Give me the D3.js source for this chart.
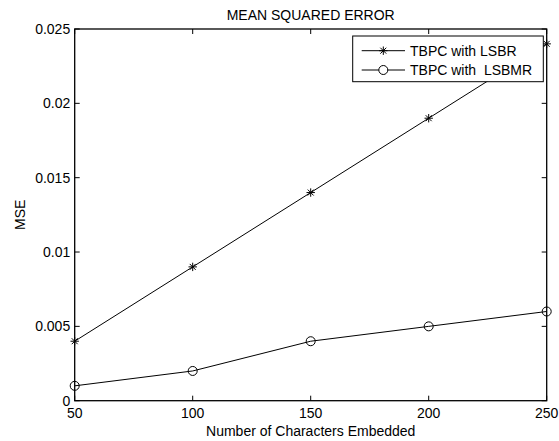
<!DOCTYPE html>
<html>
<head>
<meta charset="utf-8">
<script src="https://cdn.jsdelivr.net/npm/d3@7"></script>
<style>
  body { margin: 0; background: #fff; }
  text { font-family: "Liberation Sans", Arial, sans-serif; fill: #000; }
</style>
</head>
<body>
<div id="chart"></div>
<script>
// data
const chars = [50, 100, 150, 200, 250];
const lsbr = [0.004, 0.009, 0.014, 0.019, 0.024];
const lsbmr = [0.001, 0.002, 0.004, 0.005, 0.006];
const xTicks = [50, 100, 150, 200, 250];
const yTicks = [0, 0.005, 0.01, 0.015, 0.02, 0.025];
const seriesNames = ["TBPC with LSBR", "TBPC with  LSBMR"];

const width = 559, height = 441;
const margin = { top: 29, right: 12.3, bottom: 40.3, left: 74.7 };
const iw = width - margin.left - margin.right;
const ih = height - margin.top - margin.bottom;

const svg = d3.select("#chart").append("svg")
    .attr("width", width)
    .attr("height", height);

const g = svg.append("g")
    .attr("transform", "translate(" + margin.left + "," + margin.top + ")");

const x = d3.scaleLinear().domain([50, 250]).range([0, iw]);
const y = d3.scaleLinear().domain([0, 0.025]).range([ih, 0]);

const fs = "14px";
const tickLen = 5;

// box
g.append("rect")
    .attr("width", iw).attr("height", ih)
    .attr("fill", "none").attr("stroke", "#000").attr("stroke-width", 1.3);

// inward ticks
g.selectAll(".xt").data(xTicks).enter().append("path")
    .attr("d", d => `M${x(d)},${ih}v${-tickLen}M${x(d)},0v${tickLen}`)
    .attr("stroke", "#000").attr("stroke-width", 1);
g.selectAll(".yt").data(yTicks).enter().append("path")
    .attr("d", d => `M0,${y(d)}h${tickLen}M${iw},${y(d)}h${-tickLen}`)
    .attr("stroke", "#000").attr("stroke-width", 1);

// tick labels
g.selectAll(".xl").data(xTicks).enter().append("text")
    .attr("x", d => x(d)).attr("y", ih + 17.5)
    .attr("text-anchor", "middle").style("font-size", fs)
    .text(d => d);
g.selectAll(".yl").data(yTicks).enter().append("text")
    .attr("x", -4.5).attr("y", d => y(d) + 5)
    .attr("text-anchor", "end").style("font-size", fs)
    .text(d => d3.format("~g")(d));

// axis titles
svg.append("text")
    .attr("x", margin.left + iw / 2).attr("y", 436)
    .attr("text-anchor", "middle").style("font-size", fs)
    .text("Number of Characters Embedded");
svg.append("text")
    .attr("transform", "translate(25," + (margin.top + ih / 2) + ") rotate(-90)")
    .attr("text-anchor", "middle").style("font-size", fs)
    .text("MSE");
svg.append("text")
    .attr("x", margin.left + iw / 2).attr("y", 20)
    .attr("text-anchor", "middle").style("font-size", fs)
    .text("MEAN SQUARED ERROR");

// lines
const line = d3.line().x((d, i) => x(chars[i])).y(d => y(d));
[lsbr, lsbmr].forEach(s => {
    g.append("path").datum(s)
        .attr("d", line)
        .attr("fill", "none").attr("stroke", "#000").attr("stroke-width", 1);
});

// markers
function star(sel) {
    const r = 4.2;
    let d = "";
    for (let k = 0; k < 4; k++) {
        const a = k * Math.PI / 4;
        const dx = r * Math.sin(a), dy = r * Math.cos(a);
        d += `M${-dx},${-dy}L${dx},${dy}`;
    }
    sel.append("path").attr("d", d).attr("stroke", "#000").attr("stroke-width", 1);
}
g.selectAll(".star").data(lsbr).enter().append("g")
    .attr("transform", (d, i) => `translate(${x(chars[i])},${y(d)})`)
    .call(star);
g.selectAll(".circ").data(lsbmr).enter().append("circle")
    .attr("cx", (d, i) => x(chars[i])).attr("cy", d => y(d))
    .attr("r", 4.5).attr("fill", "none").attr("stroke", "#000").attr("stroke-width", 1);

// legend
const lg = svg.append("g");
lg.append("rect")
    .attr("x", 352.7).attr("y", 36).attr("width", 190.6).attr("height", 45.7)
    .attr("fill", "#fff").attr("stroke", "#000").attr("stroke-width", 1);
const ly = [50.7, 70];
seriesNames.forEach((name, i) => {
    lg.append("line")
        .attr("x1", 361.7).attr("x2", 405).attr("y1", ly[i]).attr("y2", ly[i])
        .attr("stroke", "#000").attr("stroke-width", 1);
    if (i === 0) {
        lg.append("g").attr("transform", `translate(383.3,${ly[i]})`).call(star);
    } else {
        lg.append("circle").attr("cx", 383.3).attr("cy", ly[i]).attr("r", 4.5)
            .attr("fill", "#fff").attr("stroke", "#000");
    }
    lg.append("text")
        .attr("x", 410).attr("y", ly[i] + 5)
        .style("font-size", fs).style("white-space", "pre")
        .attr("xml:space", "preserve")
        .text(name);
});
</script>
</body>
</html>
